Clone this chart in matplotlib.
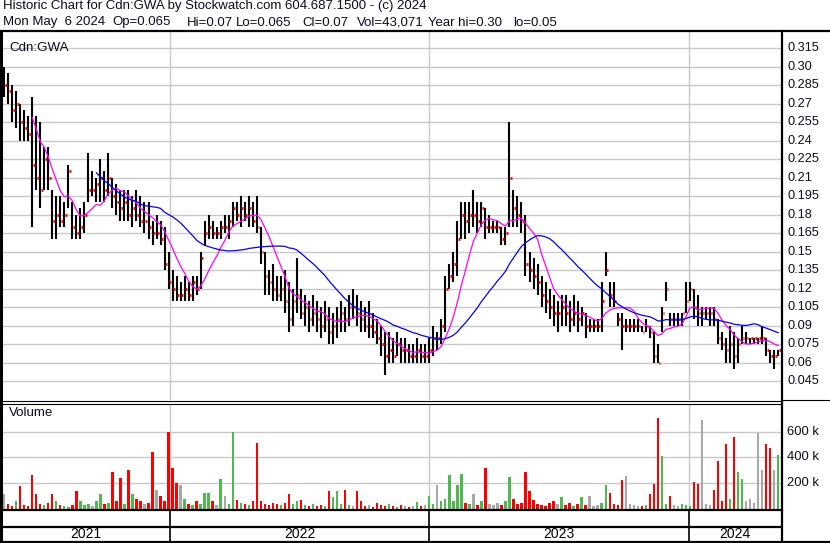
import numpy as np
import pandas as pd
import matplotlib
matplotlib.use("Agg")
import matplotlib.pyplot as plt
import matplotlib.dates as mdates
from matplotlib.transforms import blended_transform_factory

# ---- price data (sampled bars, oldest first) ----
high = [
    .300, .295, .285, .280, .270, .265, .260, .275, .260, .255,
    .235, .235, .200, .195, .195, .190, .220, .190, .180, .185,
    .190, .230, .215, .210, .225, .215, .230, .210, .205, .200,
    .200, .200, .195, .200, .195, .190, .190, .175, .180, .175,
    .170, .150, .135, .130, .125, .130, .125, .130, .130, .150,
    .175, .180, .175, .170, .175, .180, .180, .190, .190, .195,
    .190, .195, .190, .195, .170, .150, .135, .140, .130, .130,
    .135, .125, .120, .145, .120, .115, .110, .115, .110, .105,
    .110, .105, .100, .105, .110, .105, .115, .120, .115, .110,
    .105, .110, .100, .095, .090, .085, .085, .080, .085, .080,
    .080, .075, .075, .080, .075, .075, .080, .090, .085, .095,
    .130, .140, .150, .175, .190, .190, .190, .200, .190, .190,
    .185, .180, .175, .175, .170, .170, .255, .200, .195, .190,
    .180, .150, .145, .140, .130, .125, .120, .115, .110, .115,
    .115, .110, .115, .110, .105, .100, .095, .095, .095, .125,
    .150, .125, .125, .100, .100, .095, .095, .095, .095, .090,
    .095, .090, .085, .075, .105, .125, .100, .100, .100, .100,
    .125, .125, .120, .115, .105, .105, .105, .105, .095, .085,
    .080, .090, .085, .080, .090, .085, .080, .080, .080, .090,
    .080, .070, .070, .070,
]
low = [
    .275, .270, .255, .250, .240, .240, .240, .170, .200, .185,
    .200, .200, .160, .160, .170, .170, .185, .160, .160, .160,
    .165, .190, .195, .190, .190, .190, .195, .185, .180, .175,
    .175, .175, .170, .175, .170, .165, .160, .155, .160, .155,
    .135, .120, .110, .110, .110, .110, .110, .110, .115, .120,
    .155, .160, .160, .160, .160, .165, .160, .170, .175, .170,
    .175, .170, .170, .165, .140, .115, .115, .110, .110, .110,
    .100, .085, .090, .100, .095, .090, .085, .090, .085, .080,
    .085, .075, .075, .080, .085, .085, .090, .095, .090, .085,
    .085, .080, .080, .075, .065, .050, .060, .060, .065, .060,
    .060, .060, .060, .060, .060, .060, .060, .065, .070, .075,
    .085, .120, .125, .130, .160, .160, .165, .170, .165, .170,
    .160, .165, .165, .165, .155, .155, .170, .170, .170, .165,
    .130, .125, .120, .115, .105, .100, .095, .090, .085, .090,
    .090, .085, .090, .085, .090, .080, .085, .085, .085, .085,
    .130, .105, .105, .090, .070, .085, .085, .085, .085, .085,
    .085, .080, .060, .060, .085, .110, .090, .090, .090, .090,
    .100, .110, .095, .090, .090, .095, .090, .090, .075, .070,
    .060, .060, .055, .060, .075, .075, .075, .075, .075, .075,
    .065, .060, .055, .065,
]
close = [
    .285, .280, .265, .270, .255, .250, .245, .220, .210, .200,
    .225, .210, .175, .180, .175, .180, .215, .170, .165, .170,
    .180, .200, .200, .205, .210, .200, .210, .195, .190, .185,
    .190, .180, .185, .180, .175, .175, .170, .165, .165, .160,
    .140, .125, .120, .115, .115, .120, .115, .125, .120, .145,
    .165, .170, .165, .165, .170, .170, .175, .185, .180, .185,
    .180, .185, .175, .170, .150, .130, .125, .120, .115, .120,
    .110, .095, .110, .115, .100, .105, .095, .100, .095, .090,
    .095, .085, .090, .095, .100, .095, .105, .105, .100, .095,
    .090, .090, .085, .080, .075, .065, .070, .065, .075, .070,
    .070, .065, .065, .070, .065, .065, .070, .080, .080, .090,
    .120, .130, .140, .160, .180, .175, .180, .180, .175, .185,
    .170, .170, .170, .170, .160, .165, .210, .185, .180, .175,
    .140, .135, .130, .125, .115, .110, .105, .100, .100, .105,
    .100, .095, .100, .095, .100, .090, .090, .090, .090, .110,
    .135, .115, .110, .095, .090, .090, .090, .090, .090, .085,
    .090, .085, .065, .060, .100, .120, .095, .095, .095, .100,
    .110, .120, .105, .100, .100, .100, .100, .095, .080, .075,
    .070, .075, .065, .075, .080, .080, .080, .080, .080, .080,
    .070, .065, .065, .070,
]
# volume in thousands of shares
volume_k = [
    120, 40, 20, 60, 175, 30, 25, 260, 120, 40,
    30, 50, 120, 60, 30, 20, 15, 30, 140, 60,
    30, 40, 25, 60, 115, 40, 50, 290, 60, 240,
    40, 300, 120, 80, 60, 40, 50, 440, 150, 100,
    60, 600, 320, 200, 185, 80, 40, 30, 60, 40,
    125, 125, 60, 30, 230, 100, 40, 600, 70, 50,
    40, 30, 60, 515, 60, 40, 30, 50, 40, 30,
    50, 120, 40, 60, 70, 30, 20, 40, 25, 30,
    20, 140, 95, 140, 40, 145, 30, 20, 140, 60,
    20, 30, 15, 50, 30, 20, 40, 25, 15, 30,
    20, 15, 25, 55, 20, 30, 100, 40, 185, 60,
    80, 260, 60, 185, 275, 50, 40, 115, 30, 60,
    315, 40, 30, 50, 30, 60, 245, 80, 40, 50,
    285, 140, 70, 40, 30, 25, 50, 65, 40, 95,
    30, 50, 20, 40, 90, 30, 100, 20, 30, 50,
    185, 125, 40, 30, 225, 255, 40, 30, 25, 20,
    30, 120, 190, 710, 410, 40, 100, 30, 20, 40,
    30, 20, 210, 190, 690, 40, 30, 150, 370, 60,
    505, 80, 560, 290, 230, 60, 80, 50, 590, 300,
    505, 475, 305, 420,
]

price_ticks = [0.045, 0.06, 0.075, 0.09, 0.105, 0.12, 0.135, 0.15, 0.165,
               0.18, 0.195, 0.21, 0.225, 0.24, 0.255, 0.27, 0.285, 0.30, 0.315]
price_labels = ["0.045", "0.06", "0.075", "0.09", "0.105", "0.12", "0.135",
                "0.15", "0.165", "0.18", "0.195", "0.21", "0.225", "0.24",
                "0.255", "0.27", "0.285", "0.30", "0.315"]
vol_ticks = [200, 400, 600]
vol_labels = ["200 k", "400 k", "600 k"]
years = [2021, 2022, 2023, 2024]

title_line = "Historic Chart for Cdn:GWA by Stockwatch.com 604.687.1500 - (c) 2024"
quote_parts = ["Mon May  6 2024", "Op=0.065", "Hi=0.07", "Lo=0.065", "Cl=0.07",
               "Vol=43,071", "Year hi=0.30", "lo=0.05"]
symbol = "Cdn:GWA"

FONT = "Liberation Sans"
TXT = "#0c0c24"
GRID = "#c8c8c8"

W, H = 830, 543
fig = plt.figure(figsize=(W / 100, H / 100), dpi=100)
fig.patch.set_facecolor("white")


def box(left, top, right, bottom):
    return [left / W, 1 - bottom / H, (right - left) / W, (bottom - top) / H]


ax_p = fig.add_axes(box(2, 32, 781, 400))
ax_v = fig.add_axes(box(2, 404, 781, 510))
ax_d = fig.add_axes(box(2, 510, 781, 541))

n = len(close)
t = np.linspace(mdates.date2num(pd.Timestamp("2021-05-12")),
                mdates.date2num(pd.Timestamp("2024-05-06")), n)
xlim = (mdates.date2num(pd.Timestamp("2021-05-09")),
        mdates.date2num(pd.Timestamp("2024-05-10")))
year_starts = [mdates.date2num(pd.Timestamp(f"{y}-01-01")) for y in years[1:]]

for ax in (ax_p, ax_v, ax_d):
    ax.set_xlim(*xlim)
    ax.set_xticks([])
    ax.set_yticks([])
    for s in ax.spines.values():
        s.set_visible(False)

# ---- price panel ----
ax_p.set_ylim(0.0296, 0.328)
for v in price_ticks:
    ax_p.axhline(v, color=GRID, lw=1.0, zorder=0)
for ys in year_starts:
    ax_p.axvline(ys, color=GRID, lw=1.0, zorder=0)

ax_p.vlines(t, low, high, color="black", lw=1.5, zorder=2)
# close marks as small red ticks beside each bar
ax_p.hlines(close, t + 1.0, t + 3.4, color="red", lw=2.0, zorder=3)

cs = pd.Series(close)
ma_short = cs.rolling(8).mean()
ma_long = cs.rolling(24).mean()
ax_p.plot(t, ma_short, color="#ff00ff", lw=0.9, zorder=4)
ax_p.plot(t, ma_long, color="#0000ff", lw=0.9, zorder=4)

tr_p = blended_transform_factory(ax_p.transAxes, ax_p.transData)
for v, lab in zip(price_ticks, price_labels):
    ax_p.text(1.0 + 6 / 779, v, lab, transform=tr_p, ha="left", va="center",
              fontsize=9.2, family=FONT, color=TXT, clip_on=False)
ax_p.text(7 / 779, 0.99 - 6 / 368, symbol, transform=ax_p.transAxes, ha="left",
          va="top", fontsize=9.6, family=FONT, color=TXT)

# ---- volume panel ----
ax_v.set_ylim(-8, 815)
for v in vol_ticks:
    ax_v.axhline(v, color=GRID, lw=1.0, zorder=0)
for ys in year_starts:
    ax_v.axvline(ys, color=GRID, lw=1.0, zorder=0)

chg = np.diff(np.asarray(close), prepend=close[0])
vcolors = ["#50b850" if d > 1e-9 else ("#ff0000" if d < -1e-9 else "#a8a8a8")
           for d in chg]
ax_v.bar(t, volume_k, width=3.4, color=vcolors, bottom=0, zorder=2, linewidth=0)

tr_v = blended_transform_factory(ax_v.transAxes, ax_v.transData)
for v, lab in zip(vol_ticks, vol_labels):
    ax_v.text(1.0 + 6 / 779, v, lab, transform=tr_v, ha="left", va="center",
              fontsize=9.4, family=FONT, color=TXT, clip_on=False)
ax_v.text(7 / 779, 1 - 3 / 106, "Volume", transform=ax_v.transAxes, ha="left",
          va="top", fontsize=9.6, family=FONT, color=TXT)

# ---- date strip ----
ax_d.set_ylim(0, 1)
ax_d.axhline(14 / 31, color="black", lw=1.6)
for ys in year_starts:
    ax_d.axvline(ys, color="black", lw=1.2)
edges = [xlim[0]] + year_starts + [xlim[1]]
for y, a, b in zip(years, edges[:-1], edges[1:]):
    ax_d.text((a + b) / 2, 6.5 / 31, str(y), ha="center", va="center",
              fontsize=10, family=FONT, color="black")

# ---- frame lines and header ----
ov = fig.add_axes([0, 0, 1, 1])
ov.set_xlim(0, W)
ov.set_ylim(H, 0)
ov.axis("off")
ov.patch.set_alpha(0)

k = "black"
ov.plot([0, W], [31, 31], color=k, lw=1.6)
ov.plot([1.2, 1.2], [31, 542], color=k, lw=2.2)
ov.plot([782, 782], [31, 543], color=k, lw=1.6)
ov.plot([0, 782], [401, 401], color=k, lw=0.8)
ov.plot([0, 782], [403.5, 403.5], color=k, lw=0.8)
ov.plot([782, W], [400, 400], color=k, lw=0.8)
ov.plot([0, 782], [510, 510], color=k, lw=1.6)
ov.plot([0, W], [541.5, 541.5], color=k, lw=1.6)

ov.text(3, 6, title_line, ha="left", va="center", fontsize=9.5, family=FONT, color=TXT)
quote_x = [3, 112, 187, 236, 302, 357, 428, 513]
for xq, part in zip(quote_x, quote_parts):
    ov.text(xq, 22.5, part, ha="left", va="center", fontsize=9.5, family=FONT, color=TXT)

fig.savefig("out.png", dpi=100, facecolor="white")
